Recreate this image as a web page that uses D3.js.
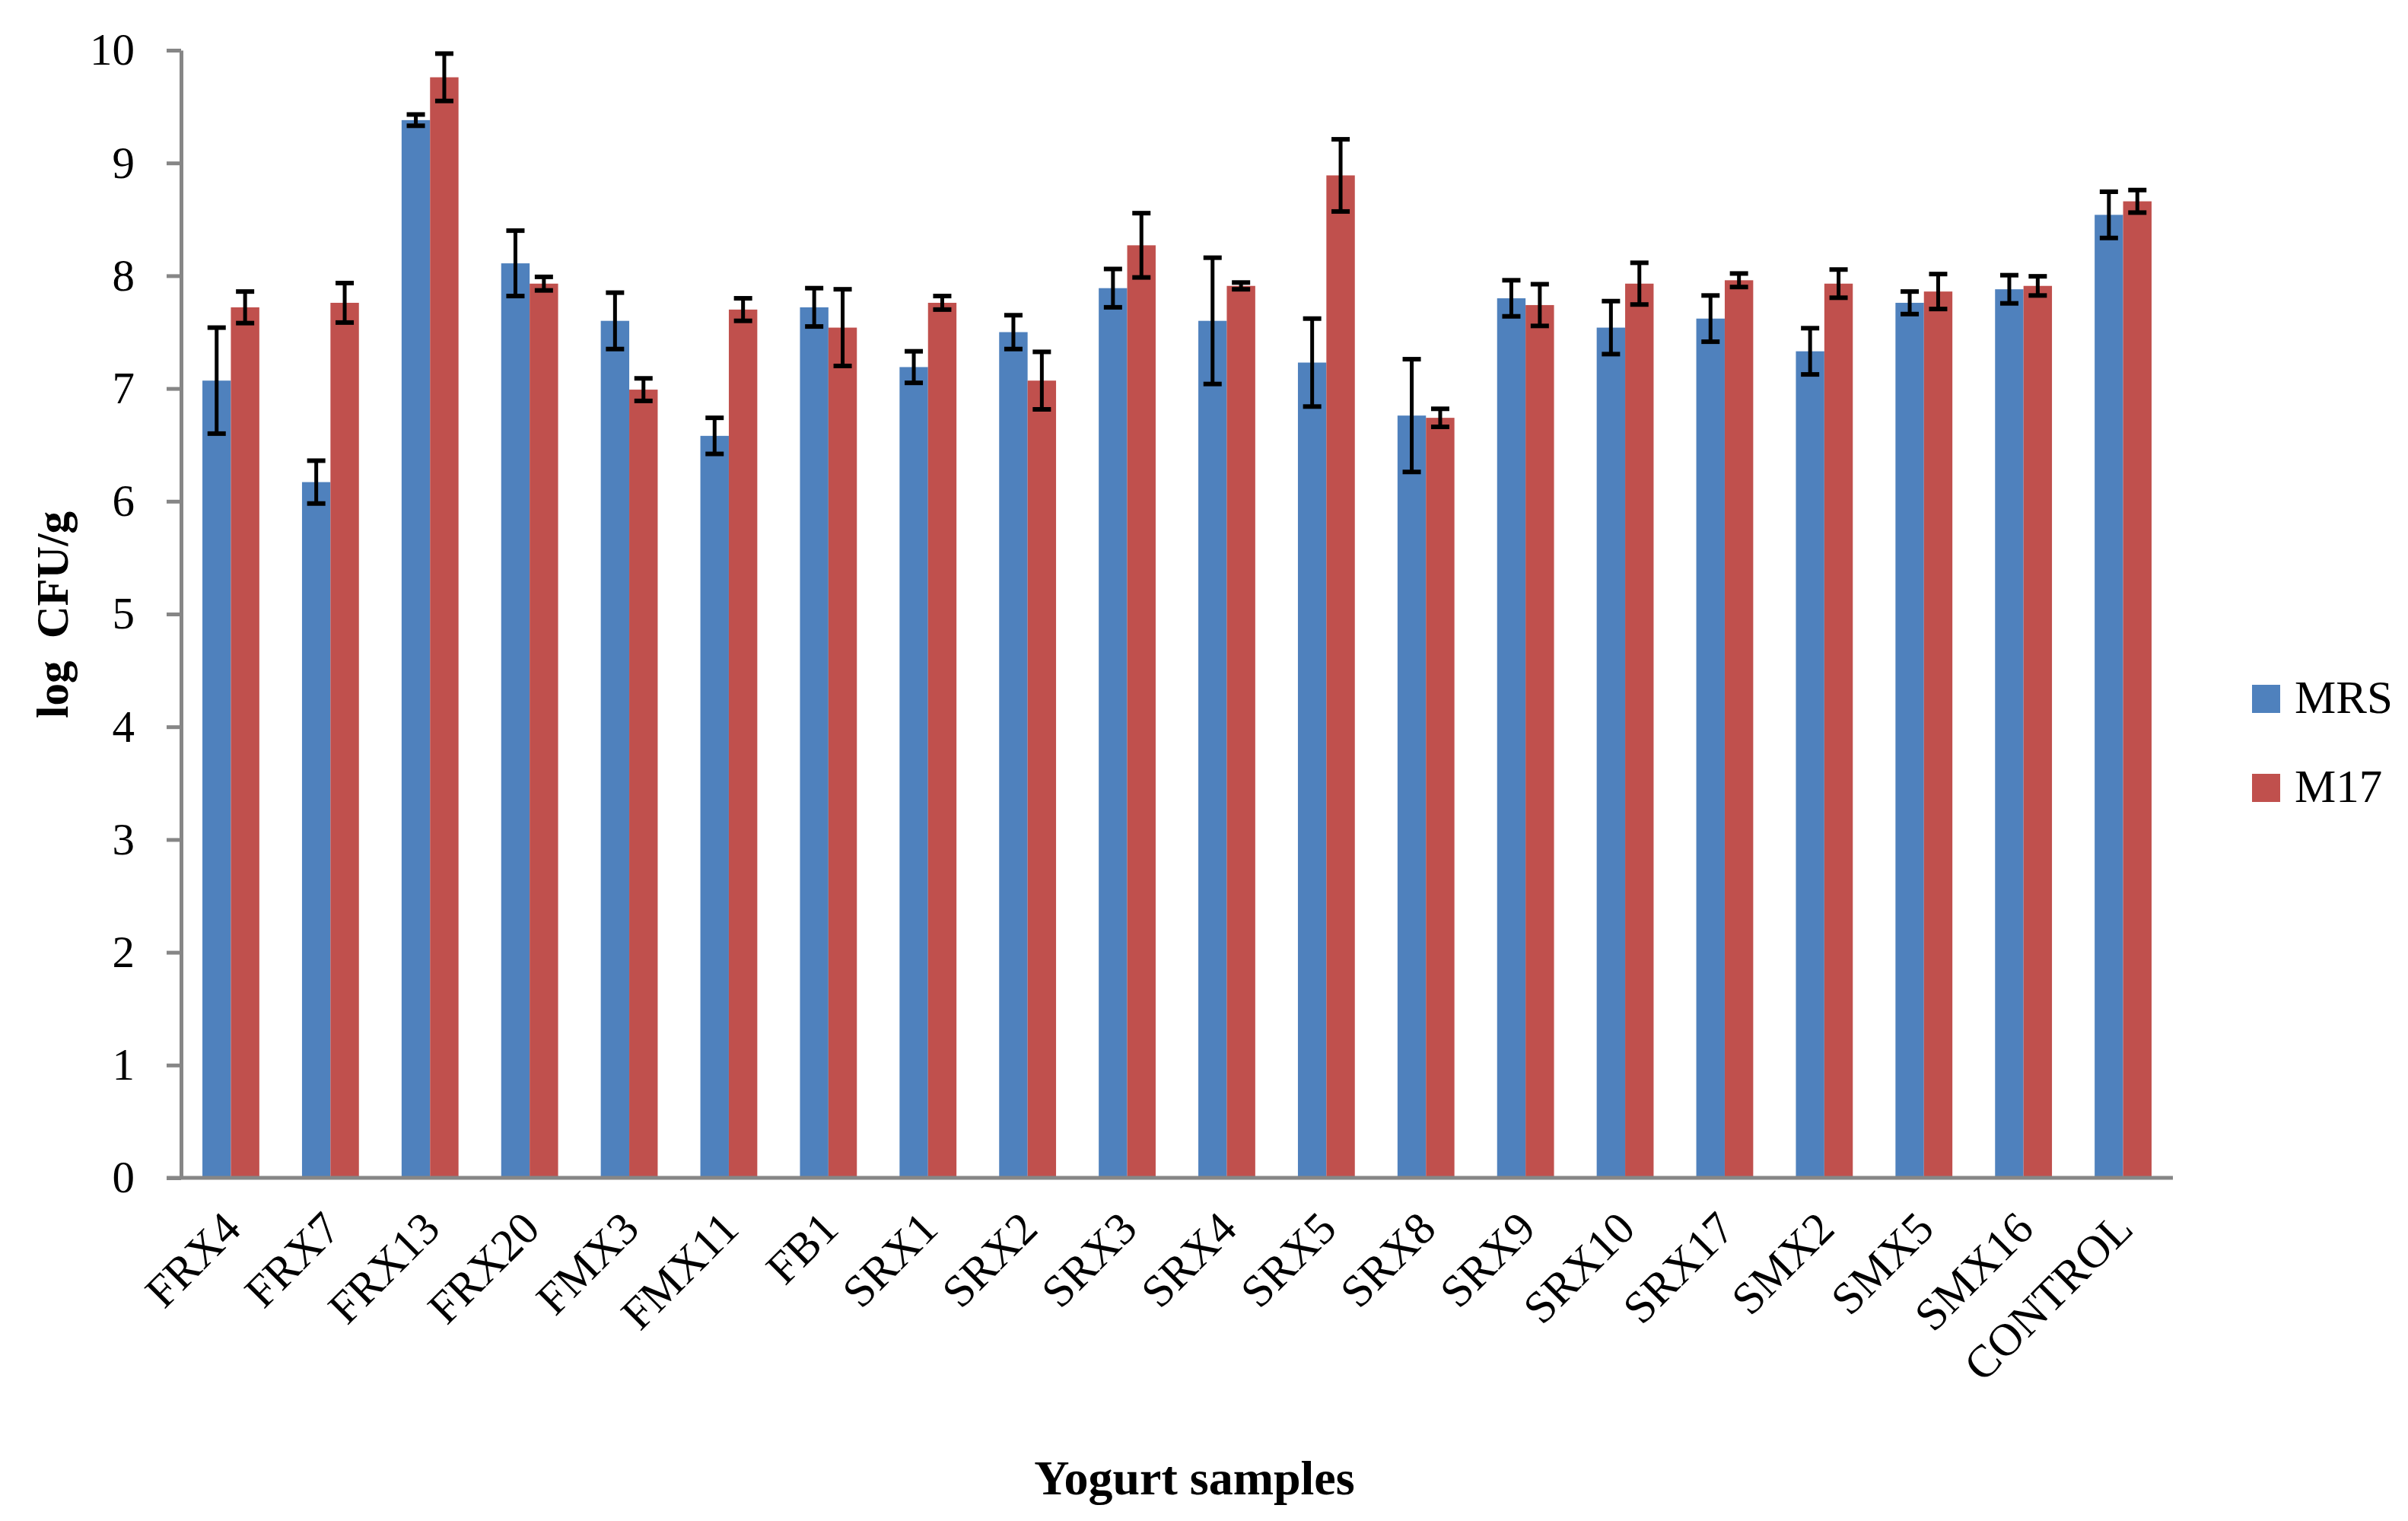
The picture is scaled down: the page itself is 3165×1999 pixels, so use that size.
<!DOCTYPE html>
<html>
<head>
<meta charset="utf-8">
<script src="https://cdn.jsdelivr.net/npm/d3@7"></script>
<style>
   html, body { margin: 0; padding: 0; background: #fff; }
   #chart { width: 3165px; height: 1999px; }
   text { font-family: "Palatino Linotype", "Book Antiqua", Palatino, "Liberation Serif", serif; fill: #000; }
</style>
</head>
<body>
<div id="chart"></div>
<script>
// categories and series values
const categories = ['FRX4', 'FRX7', 'FRX13', 'FRX20', 'FMX3', 'FMX11', 'FB1', 'SRX1', 'SRX2', 'SRX3',
   'SRX4', 'SRX5', 'SRX8', 'SRX9', 'SRX10', 'SRX17', 'SMX2', 'SMX5', 'SMX16', 'CONTROL'];
const seriesNames = ['MRS', 'M17'];
const mrsValues = [7.07, 6.17, 9.38, 8.11, 7.60, 6.58, 7.72, 7.19, 7.50, 7.89,
   7.60, 7.23, 6.76, 7.80, 7.54, 7.62, 7.33, 7.76, 7.88, 8.54];
const mrsErrors = [0.47, 0.19, 0.05, 0.29, 0.25, 0.16, 0.17, 0.14, 0.15, 0.17,
   0.56, 0.39, 0.50, 0.16, 0.235, 0.205, 0.205, 0.10, 0.125, 0.205];
const m17Values = [7.72, 7.76, 9.76, 7.93, 6.99, 7.70, 7.54, 7.76, 7.07, 8.27,
   7.91, 8.89, 6.74, 7.74, 7.93, 7.96, 7.93, 7.86, 7.91, 8.66];
const m17Errors = [0.14, 0.175, 0.21, 0.06, 0.10, 0.10, 0.34, 0.06, 0.255, 0.285,
   0.03, 0.32, 0.08, 0.185, 0.185, 0.06, 0.125, 0.155, 0.085, 0.10];
const yTicks = [0, 1, 2, 3, 4, 5, 6, 7, 8, 9, 10];

(function () {
   const width = 3165;
   const height = 1999;
   const colors = { MRS: '#4F81BD', M17: '#C0504D' };
   const axisColor = '#868686';

   // plot area edges
   const left = 238, right = 2856, top = 66, bottom = 1548;

   const svg = d3.select('#chart')
      .append('svg')
      .attr('width', width)
      .attr('height', height);

   // build rows for drawing
   const rows = categories.map((c, i) => ({
      cat: c,
      vals: [
         { key: 'MRS', v: mrsValues[i], e: mrsErrors[i] },
         { key: 'M17', v: m17Values[i], e: m17Errors[i] }
      ]
   }));

   // scales (excel gap width 150%)
   const x0 = d3.scaleBand()
      .domain(categories)
      .range([left, right])
      .paddingInner(1.5 / 3.5)
      .paddingOuter(0.75 / 3.5);

   const x1 = d3.scaleBand()
      .domain(seriesNames)
      .range([0, x0.bandwidth()]);

   const y = d3.scaleLinear()
      .domain([0, 10])
      .range([bottom, top]);

   // bars
   const groups = svg.append('g')
      .selectAll('g')
      .data(rows)
      .join('g')
      .attr('transform', d => `translate(${x0(d.cat)},0)`);

   groups.selectAll('rect')
      .data(d => d.vals)
      .join('rect')
      .attr('x', d => x1(d.key))
      .attr('y', d => y(d.v))
      .attr('width', x1.bandwidth())
      .attr('height', d => y(0) - y(d.v))
      .attr('fill', d => colors[d.key]);

   // error bars
   const capHalf = 12;
   const err = groups.selectAll('g.err')
      .data(d => d.vals)
      .join('g')
      .attr('class', 'err')
      .attr('stroke', '#000')
      .attr('stroke-width', 5);

   err.append('line')
      .attr('x1', d => x1(d.key) + x1.bandwidth() / 2)
      .attr('x2', d => x1(d.key) + x1.bandwidth() / 2)
      .attr('y1', d => y(d.v + d.e))
      .attr('y2', d => y(d.v - d.e));

   err.append('line')
      .attr('stroke-width', 6)
      .attr('x1', d => x1(d.key) + x1.bandwidth() / 2 - capHalf)
      .attr('x2', d => x1(d.key) + x1.bandwidth() / 2 + capHalf)
      .attr('y1', d => y(d.v + d.e))
      .attr('y2', d => y(d.v + d.e));

   err.append('line')
      .attr('stroke-width', 6)
      .attr('x1', d => x1(d.key) + x1.bandwidth() / 2 - capHalf)
      .attr('x2', d => x1(d.key) + x1.bandwidth() / 2 + capHalf)
      .attr('y1', d => y(d.v - d.e))
      .attr('y2', d => y(d.v - d.e));

   // y axis
   const yAxis = svg.append('g')
      .attr('transform', `translate(${left},0)`)
      .call(d3.axisLeft(y).tickValues(yTicks).tickSize(19).tickPadding(42).tickSizeOuter(0));

   yAxis.select('.domain').attr('stroke', axisColor).attr('stroke-width', 5);
   yAxis.selectAll('.tick line').attr('stroke', axisColor).attr('stroke-width', 5);
   yAxis.selectAll('.tick text')
      .style('font-size', '59px')
      .attr('fill', '#000');
   yAxis.attr('font-family', null);

   // x axis (no tick marks)
   const xAxis = svg.append('g')
      .attr('transform', `translate(0,${bottom})`)
      .call(d3.axisBottom(x0).tickSize(0).tickSizeOuter(0).tickFormat(() => ''));

   xAxis.select('.domain')
      .attr('d', `M${left - 19},0H${right}`)
      .attr('stroke', axisColor)
      .attr('stroke-width', 5);

   // rotated category labels
   svg.append('g')
      .selectAll('text')
      .data(categories)
      .join('text')
      .attr('text-anchor', 'end')
      .attr('transform', d => `translate(${x0(d) + x0.bandwidth() / 2 + 16},${bottom + 70}) rotate(-45)`)
      .style('font-size', '60px')
      .text(d => d);

   // axis titles
   svg.append('text')
      .attr('transform', 'translate(89,808) rotate(-90)')
      .attr('text-anchor', 'middle')
      .style('font-size', '59px')
      .style('font-weight', 'bold')
      .style('white-space', 'pre')
      .text('log  CFU/g');

   svg.append('text')
      .attr('x', 1570)
      .attr('y', 1964)
      .attr('text-anchor', 'middle')
      .style('font-size', '64px')
      .style('font-weight', 'bold')
      .text('Yogurt samples');

   // legend
   const legend = svg.append('g')
      .selectAll('g')
      .data(seriesNames)
      .join('g')
      .attr('transform', (d, i) => `translate(2960,${900 + i * 117})`);

   legend.append('rect')
      .attr('width', 37)
      .attr('height', 37)
      .attr('fill', d => colors[d]);

   legend.append('text')
      .attr('x', 56)
      .attr('y', 37)
      .style('font-size', '61px')
      .text(d => d);
})();
</script>
</body>
</html>
